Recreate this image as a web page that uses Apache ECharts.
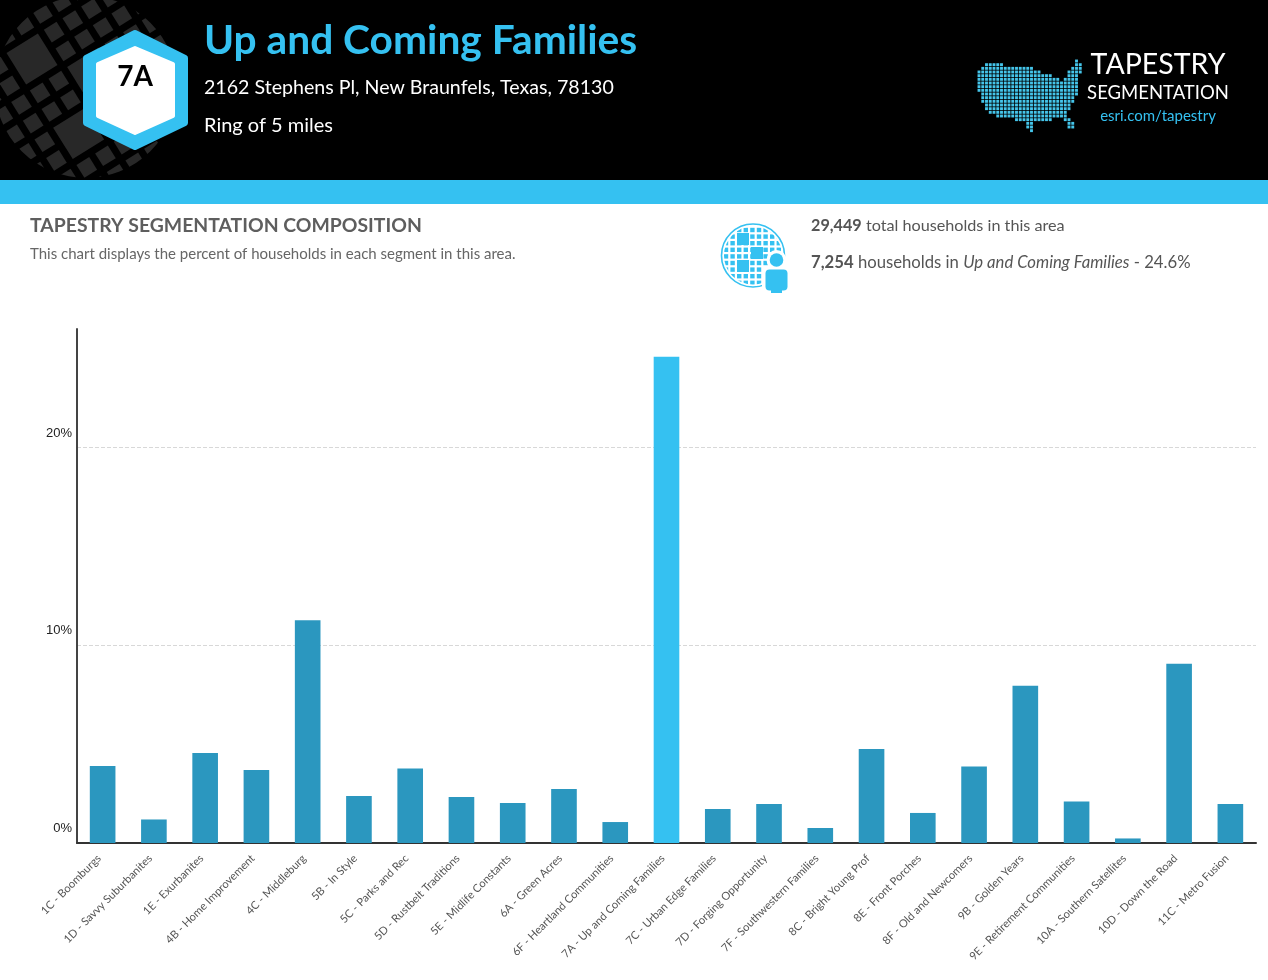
<!DOCTYPE html>
<html>
<head>
<meta charset="utf-8">
<style>html,body{margin:0;padding:0;background:#fff}#c{width:1268px;height:980px}</style>
<script src="https://cdn.jsdelivr.net/npm/echarts@6/dist/echarts.min.js"></script>
</head>
<body>
<div id="c"></div>
<script>
const categories = ["1C - Boomburgs","1D - Savvy Suburbanites","1E - Exurbanites","4B - Home Improvement","4C - Middleburg","5B - In Style","5C - Parks and Rec","5D - Rustbelt Traditions","5E - Midlife Constants","6A - Green Acres","6F - Heartland Communities","7A - Up and Coming Families","7C - Urban Edge Families","7D - Forging Opportunity","7F - Southwestern Families","8C - Bright Young Prof","8E - Front Porches","8F - Old and Newcomers","9B - Golden Years","9E - Retirement Communities","10A - Southern Satellites","10D - Down the Road","11C - Metro Fusion"];
const values = [3.89,1.19,4.55,3.69,11.27,2.38,3.77,2.33,2.02,2.73,1.06,24.6,1.72,1.97,0.76,4.75,1.52,3.87,7.96,2.1,0.23,9.07,1.97];
const highlighted = "7A - Up and Coming Families";
const BLUE = '#35c1f1', BAR = '#2b97bf';
const FONT = 'Lato';

const g = [];
const rect = (x,y,w,h,fill,z,extra) => g.push(Object.assign({type:'rect',silent:true,z:z,shape:{x,y,width:w,height:h},style:{fill}},extra||{}));
const text = (x,y,t,font,fill,align,z) => g.push({type:'text',silent:true,z:z||20,x,y,style:{text:t,font,fill,textAlign:align||'left',textVerticalAlign:'middle'}});

/* header */
rect(0,0,1268,180,'#000',1);
/* globe texture */
(function(){
  const a = 32*Math.PI/180, ux=Math.cos(a), uy=-Math.sin(a), vx=Math.sin(a), vy=Math.cos(a), p=22, o=[32,59];
  const big=[[0.5,0.5],[0.5,4.5],[2.5,2.5]];
  const taken=(i,j)=>big.some(b=>i>=b[0]-0.5&&i<=b[0]+0.5&&j>=b[1]-0.5&&j<=b[1]+0.5);
  const sq=(ci,cj,s)=>{
    const cx=o[0]+(ci-1)*p*ux+(cj-1)*p*vx, cy=o[1]+(ci-1)*p*uy+(cj-1)*p*vy;
    g.push({type:'polygon',silent:true,z:2,shape:{points:[[-1,-1],[1,-1],[1,1],[-1,1]].map(c=>[cx+c[0]*s/2*ux+c[1]*s/2*vx,cy+c[0]*s/2*uy+c[1]*s/2*vy])},style:{fill:'#282828'}});
  };
  for(let i=-6;i<=9;i++)for(let j=-6;j<=9;j++){ if(!taken(i,j)) sq(i+0.5,j+0.5,15); }
  big.forEach(b=>sq(b[0]+0.5,b[1]+0.5,37));
})();
g.push({type:'circle',silent:true,z:3,shape:{cx:86,cy:87,r:161},style:{fill:'none',stroke:'#000',lineWidth:140}});
/* blue band + white page */
rect(0,204,1268,116,'#fff',4);
rect(0,180,1268,24,BLUE,5);
/* hexagon */
g.push({type:'polygon',silent:true,z:6,shape:{points:[[135,33],[185,58],[185,123],[135,147],[86,123],[86,58]]},style:{fill:BLUE,stroke:BLUE,lineWidth:6,lineJoin:'round'}});
g.push({type:'polygon',silent:true,z:7,shape:{points:[[135,48],[173,64],[173,116],[135,133],[98,116],[98,64]]},style:{fill:'#fff',stroke:'#fff',lineWidth:4,lineJoin:'round'}});
text(135,77,'7A','bold 28px '+FONT,'#000','center');
/* header text */
text(204,41,'Up and Coming Families','bold 40.7px '+FONT,BLUE);
text(204,88,'2162 Stephens Pl, New Braunfels, Texas, 78130','19.6px '+FONT,'#fff');
text(204,126,'Ring of 5 miles','20px '+FONT,'#fff');
text(1158,65,'TAPESTRY','28.5px '+FONT,'#fff','center');
text(1158,93,'SEGMENTATION','18.5px '+FONT,'#fff','center');
text(1158,116,'esri.com/tapestry','15px '+FONT,BLUE,'center');
/* map of dots: rows of runs (in 3x crop units), snapped to a common column grid */
const mapRows = [[18,[325,325]],[29,[45,100],[325,335]],[40,[35,190],[310,335]],[51,[27,205],[300,330]],[62,[27,230],[245,245],[295,325]],[73,[27,230],[240,260],[290,320]],[84,[27,320]],[95,[27,320]],[106,[27,325]],[117,[35,320]],[128,[35,310]],[139,[35,305]],[150,[45,295]],[161,[55,295]],[172,[65,290]],[183,[85,290]],[194,[135,215],[225,240],[285,300]],[205,[175,190],[295,305]],[216,[175,190],[295,305]],[227,[185,185]]];
mapRows.forEach(r=>{ for(let k=1;k<r.length;k++){
  const a=Math.round((r[k][0]-27)/11.25), b=Math.round((r[k][1]-27)/11.25);
  for(let c=a;c<=b;c++){ rect(970+(27+c*11.25)/3-1.45,55+r[0]/3-1.45,2.9,2.9,'#45c5ea',8); }
} });
/* section heading */
text(30,226,'TAPESTRY SEGMENTATION COMPOSITION','bold 19.4px '+FONT,'#5e5e5e');
text(30,254,'This chart displays the percent of households in each segment in this area.','15px '+FONT,'#666');
g.push({type:'text',silent:true,z:20,x:811,y:226,style:{text:'{b|29,449} total households in this area',font:'16.2px '+FONT,fill:'#555',textVerticalAlign:'middle',rich:{b:{font:'bold 16.2px '+FONT,fill:'#555'}}}});
g.push({type:'text',silent:true,z:20,x:811,y:263,style:{text:'{b|7,254} households in {i|Up and Coming Families} - 24.6%',font:'16.7px '+FONT,fill:'#555',textVerticalAlign:'middle',rich:{b:{font:'bold 16.7px '+FONT,fill:'#555'},i:{font:'italic 16.7px '+FONT,fill:'#555'}}}});
/* icon */
(function(){
  const cx=753,cy=255.5;
  const big=[[743,239],[757,253],[743,266]];
  for(let x=726;x<=782;x+=6.6)for(let y=230;y<=284;y+=6.6){
    rect(x-2.2,y-2.2,4.4,4.4,BLUE,9);
  }
  big.forEach(b=>rect(b[0]-6,b[1]-6,12,12,BLUE,10));
  g.push({type:'circle',silent:true,z:11,shape:{cx,cy,r:37},style:{fill:'none',stroke:'#fff',lineWidth:16}});
  g.push({type:'circle',silent:true,z:12,shape:{cx,cy,r:31.5},style:{fill:'none',stroke:BLUE,lineWidth:1.6}});
  g.push({type:'circle',silent:true,z:13,shape:{cx:776.5,cy:260,r:10},style:{fill:'#fff'}});
  rect(762,266,29,30,'#fff',13);
  g.push({type:'circle',silent:true,z:14,shape:{cx:776.5,cy:260,r:6.8},style:{fill:BLUE}});
  rect(765.5,269.5,22,21,BLUE,14,{shape:{x:765.5,y:269.5,width:22,height:21,r:4}});
  rect(771,288,11,5,BLUE,14);
})();

const chart = echarts.init(document.getElementById('c'),null,{renderer:'canvas',width:1268,height:980});
chart.setOption({
  animation:false,
  backgroundColor:'#fff',
  grid:{left:77,right:12,top:329,bottom:137,containLabel:false},
  xAxis:{type:'category',data:categories,
    axisLine:{lineStyle:{color:'#333',width:2}},axisTick:{show:false},
    axisLabel:{interval:0,rotate:45,margin:10,padding:[0,5,0,0],fontFamily:FONT,fontSize:11.1,color:'#555'}},
  yAxis:{type:'value',min:0,max:26,interval:10,
    axisLine:{show:true,lineStyle:{color:'#444',width:2}},axisTick:{show:false},
    splitLine:{show:true,showMinLine:false,showMaxLine:false,lineStyle:{color:'#d8d8d8',type:'dashed',width:1}},
    axisLabel:{showMaxLabel:false,formatter:'{value}%',margin:5,fontFamily:'Liberation Sans',fontSize:13,color:'#222',verticalAlign:'bottom',padding:[0,0,8,0]}},
  series:[{type:'bar',barWidth:'50%',z:2,
    data:values.map((v,i)=>({value:v,itemStyle:{color:categories[i]===highlighted?BLUE:BAR}}))}],
  graphic:{elements:g}
});
</script>
</body>
</html>
